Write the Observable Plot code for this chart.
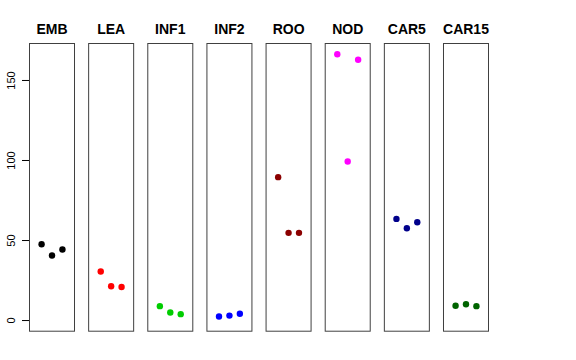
<!DOCTYPE html>
<html><head><meta charset="utf-8">
<script src="https://cdn.jsdelivr.net/npm/d3@7"></script>
<script src="https://cdn.jsdelivr.net/npm/@observablehq/plot@0.6"></script>
<style>body{margin:0;background:#fff}</style>
</head><body><div id="chart"></div>
<script>
const tissues = ["EMB","LEA","INF1","INF2","ROO","NOD","CAR5","CAR15"];
const colors = ["#000000","#FF0000","#00CD00","#0000FF","#8B0000","#FF00FF","#00008B","#006400"];
const rep1 = [47.7,30.6,9.0,2.5,89.6,166.4,63.5,9.2];
const rep2 = [40.6,21.4,5.0,3.1,54.8,99.4,57.7,10.2];
const rep3 = [44.4,21.0,4.0,4.2,54.8,162.9,61.4,9.0];
const yTicks = [0,50,100,150];

const data = [];
tissues.forEach((t,i) => {
  [rep1,rep2,rep3].forEach((r,j) => data.push({tissue:t, rep:j+1, value:r[i]}));
});

const chart = Plot.plot({
  width:576, height:360,
  marginLeft:29, marginRight:88, marginTop:43, marginBottom:29.3,
  style:{fontFamily:"'Liberation Sans', Arial, Helvetica, sans-serif", background:"white", color:"black"},
  fx:{domain:tissues, paddingInner:0.239, paddingOuter:0, round:false, axis:null},
  x:{domain:[-0.16,4.16], axis:null},
  y:{domain:[-6.66,173.1]},
  color:{domain:tissues, range:colors},
  marks:[
    Plot.frame({stroke:"#404040"}),
    Plot.axisY({ticks:yTicks, tickSize:7, tickPadding:8, tickRotate:-90, textAnchor:"middle", lineAnchor:"bottom", fontSize:11, label:null, tickFormat:d=>String(d)}),
    Plot.dot(data, {fx:"tissue", x:"rep", y:"value", r:3.2, fill:"tissue", stroke:null}),
    Plot.text(tissues, {fx:d=>d, text:d=>d, frameAnchor:"top", lineAnchor:"bottom", dy:-9.5, fontWeight:"bold", fontSize:14})
  ]
});
document.getElementById("chart").appendChild(chart);
</script>
</body></html>
